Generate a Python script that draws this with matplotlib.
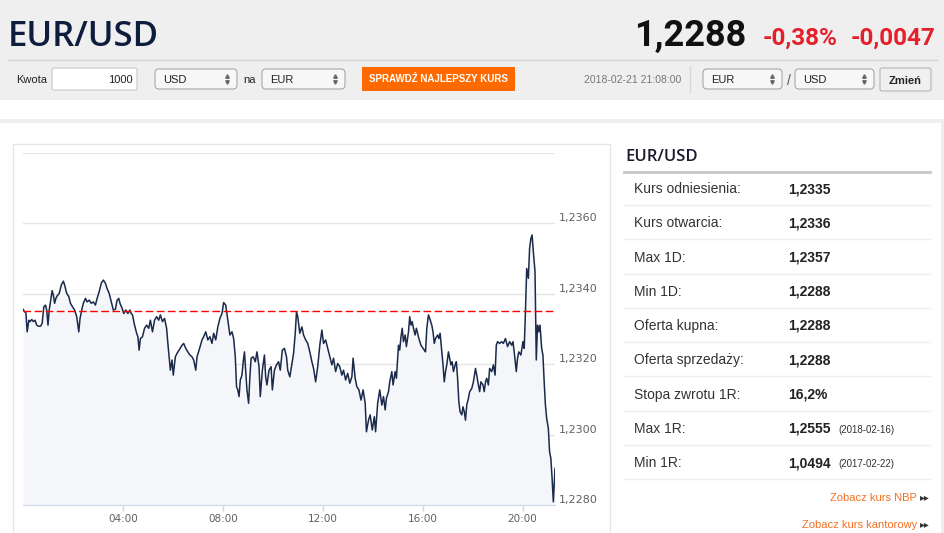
import matplotlib
matplotlib.use("Agg")
import matplotlib.pyplot as plt
from matplotlib.patches import Rectangle, FancyBboxPatch

plt.rcParams['font.family'] = ['Liberation Sans', 'DejaVu Sans']

# header data
pair = "EUR/USD"
last_rate = "1,2288"
change_pct = "-0,38%"
change_abs = "-0,0047"
timestamp = "2018-02-21 21:08:00"
amount = "1000"
reference_rate = 1.2335

# intraday quotes: minutes after 00:00 and rate
minutes = [
    0, 4, 7, 10, 14, 17, 21, 25, 29, 33,
    37, 42, 46, 50, 54, 57, 60, 63, 66, 70,
    73, 76, 79, 82, 87, 92, 97, 100, 105, 110,
    114, 119, 124, 129, 134, 137, 142, 145, 150, 154,
    159, 164, 169, 174, 178, 183, 188, 193, 198, 202,
    207, 212, 217, 222, 226, 230, 233, 238, 242, 247,
    252, 257, 260, 263, 268, 273, 276, 279, 282, 287,
    292, 297, 302, 306, 311, 316, 321, 326, 330, 335,
    340, 345, 348, 351, 354, 358, 361, 366, 370, 375,
    382, 386, 391, 396, 401, 406, 410, 415, 418, 423,
    430, 434, 439, 444, 449, 454, 458, 463, 468, 473,
    478, 482, 487, 492, 497, 502, 506, 510, 513, 516,
    519, 522, 526, 529, 532, 535, 538, 542, 545, 548,
    553, 558, 562, 567, 570, 575, 580, 583, 586, 591,
    596, 599, 604, 609, 614, 618, 623, 628, 633, 636,
    641, 646, 650, 654, 657, 660, 665, 670, 674, 679,
    684, 689, 694, 698, 703, 708, 713, 718, 722, 727,
    732, 737, 742, 746, 751, 756, 761, 766, 770, 775,
    780, 785, 790, 793, 798, 802, 807, 812, 817, 822,
    825, 830, 834, 839, 844, 847, 852, 857, 862, 866,
    870, 873, 878, 881, 886, 889, 894, 897, 902, 905,
    908, 911, 914, 918, 921, 926, 929, 932, 935, 938,
    942, 945, 948, 951, 956, 961, 964, 967, 970, 974,
    977, 982, 985, 988, 991, 996, 999, 1002, 1006, 1009,
    1012, 1015, 1018, 1022, 1025, 1028, 1031, 1034, 1038, 1041,
    1044, 1047, 1050, 1054, 1057, 1060, 1063, 1066, 1070, 1073,
    1078, 1082, 1087, 1090, 1094, 1097, 1100, 1105, 1108, 1111,
    1114, 1118, 1121, 1126, 1130, 1134, 1137, 1140, 1145, 1150,
    1154, 1159, 1164, 1169, 1174, 1177, 1180, 1185, 1188, 1191,
    1196, 1201, 1204, 1207, 1210, 1214, 1217, 1220, 1223, 1226,
    1230, 1233, 1236, 1239, 1242, 1246, 1249, 1252, 1255, 1258,
    1262, 1265, 1268, 1271, 1274, 1278,
]
rates = [
    1.23356, 1.23349, 1.23346, 1.23292, 1.23325, 1.23321, 1.23327, 1.23321, 1.23325, 1.23311,
    1.23308, 1.23308, 1.23316, 1.23363, 1.23368, 1.23354, 1.23311, 1.23354, 1.23377, 1.23409,
    1.23396, 1.23373, 1.23387, 1.23394, 1.23401, 1.23425, 1.23436, 1.23425, 1.23401, 1.23392,
    1.23373, 1.23363, 1.23354, 1.23335, 1.23292, 1.23330, 1.23359, 1.23373, 1.23387, 1.23377,
    1.23382, 1.23373, 1.23377, 1.23368, 1.23387, 1.23406, 1.23430, 1.23439, 1.23430, 1.23415,
    1.23401, 1.23377, 1.23354, 1.23356, 1.23382, 1.23387, 1.23373, 1.23359, 1.23344, 1.23354,
    1.23344, 1.23354, 1.23344, 1.23340, 1.23311, 1.23288, 1.23278, 1.23240, 1.23273, 1.23278,
    1.23302, 1.23311, 1.23302, 1.23325, 1.23292, 1.23325, 1.23335, 1.23325, 1.23340, 1.23321,
    1.23330, 1.23302, 1.23259, 1.23221, 1.23183, 1.23212, 1.23169, 1.23221, 1.23231, 1.23240,
    1.23254, 1.23259, 1.23245, 1.23235, 1.23226, 1.23221, 1.23212, 1.23183, 1.23221, 1.23240,
    1.23269, 1.23278, 1.23292, 1.23269, 1.23278, 1.23259, 1.23288, 1.23269, 1.23306, 1.23330,
    1.23344, 1.23375, 1.23368, 1.23325, 1.23283, 1.23292, 1.23273, 1.23221, 1.23136, 1.23127,
    1.23108, 1.23155, 1.23169, 1.23207, 1.23235, 1.23183, 1.23127, 1.23089, 1.23164, 1.23217,
    1.23221, 1.23207, 1.23235, 1.23193, 1.23108, 1.23183, 1.23226, 1.23164, 1.23141, 1.23183,
    1.23193, 1.23127, 1.23183, 1.23198, 1.23207, 1.23183, 1.23240, 1.23245, 1.23221, 1.23183,
    1.23164, 1.23202, 1.23231, 1.23288, 1.23349, 1.23335, 1.23288, 1.23306, 1.23283, 1.23269,
    1.23259, 1.23235, 1.23207, 1.23188, 1.23150, 1.23193, 1.23254, 1.23297, 1.23259, 1.23269,
    1.23245, 1.23221, 1.23198, 1.23217, 1.23179, 1.23202, 1.23193, 1.23169, 1.23183, 1.23155,
    1.23174, 1.23146, 1.23164, 1.23217, 1.23160, 1.23136, 1.23127, 1.23098, 1.23127, 1.23089,
    1.23008, 1.23041, 1.23056, 1.23013, 1.23051, 1.23008, 1.23089, 1.23127, 1.23084, 1.23108,
    1.23070, 1.23103, 1.23122, 1.23150, 1.23179, 1.23141, 1.23179, 1.23160, 1.23254, 1.23240,
    1.23278, 1.23302, 1.23264, 1.23283, 1.23250, 1.23292, 1.23335, 1.23311, 1.23321, 1.23302,
    1.23283, 1.23302, 1.23288, 1.23273, 1.23254, 1.23245, 1.23240, 1.23235, 1.23302, 1.23340,
    1.23330, 1.23311, 1.23292, 1.23259, 1.23273, 1.23283, 1.23273, 1.23288, 1.23235, 1.23198,
    1.23150, 1.23179, 1.23198, 1.23235, 1.23217, 1.23198, 1.23207, 1.23179, 1.23198, 1.23207,
    1.23160, 1.23093, 1.23065, 1.23056, 1.23079, 1.23065, 1.23041, 1.23084, 1.23103, 1.23122,
    1.23131, 1.23150, 1.23188, 1.23169, 1.23141, 1.23122, 1.23150, 1.23141, 1.23122, 1.23150,
    1.23160, 1.23141, 1.23188, 1.23179, 1.23198, 1.23169, 1.23254, 1.23264, 1.23259, 1.23264,
    1.23259, 1.23273, 1.23250, 1.23264, 1.23254, 1.23264, 1.23235, 1.23179, 1.23217, 1.23235,
    1.23226, 1.23264, 1.23245, 1.23349, 1.23472, 1.23444, 1.23529, 1.23557, 1.23567, 1.23519,
    1.23463, 1.23212, 1.23311, 1.23292, 1.23311, 1.23245, 1.23226, 1.23150, 1.23084, 1.23046,
    1.23018, 1.22951, 1.22933, 1.22876, 1.22809, 1.22904,
]

x_ticks = [240, 480, 720, 960, 1200]
x_labels = ["04:00", "08:00", "12:00", "16:00", "20:00"]
y_ticks = [1.2280, 1.2300, 1.2320, 1.2340, 1.2360, 1.2380]
y_labels = ["1,2280", "1,2300", "1,2320", "1,2340", "1,2360", ""]

stat_labels = ["Kurs odniesienia:", "Kurs otwarcia:", "Max 1D:", "Min 1D:",
               "Oferta kupna:", "Oferta sprzedaży:", "Stopa zwrotu 1R:",
               "Max 1R:", "Min 1R:"]
stat_values = ["1,2335", "1,2336", "1,2357", "1,2288", "1,2288", "1,2288",
               "16,2%", "1,2555", "1,0494"]
stat_dates = ["", "", "", "", "", "", "", "(2018-02-16)", "(2017-02-22)"]
links = ["Zobacz kurs NBP", "Zobacz kurs kantorowy"]

W, H = 945, 533
fig = plt.figure(figsize=(W / 100, H / 100), dpi=100)
fig.patch.set_facecolor("white")

# page layer in pixel units
bg = fig.add_axes([0, 0, 1, 1])
bg.set_xlim(0, W)
bg.set_ylim(H, 0)
bg.axis("off")


def rbox(x0, y0, x1, y1, fc, ec, r=3, lw=0.8):
    bg.add_patch(FancyBboxPatch((x0, y0), x1 - x0, y1 - y0,
                                boxstyle=f"round,pad=0,rounding_size={r}",
                                fc=fc, ec=ec, lw=lw))


def select(x0, x1, txt):
    rbox(x0, 69, x1, 89, "#f7f7f7", "#a8a8a8", r=4)
    bg.text(x0 + 8, 83, txt, fontsize=8, color="#222222")
    bg.plot([x1 - 10], [76], marker="^", ms=2.5, color="#666666")
    bg.plot([x1 - 10], [82], marker="v", ms=2.5, color="#666666")


# grey top band
bg.add_patch(Rectangle((0, 0), W, 100, fc="#efefef", ec="none"))
bg.plot([8, 937], [60, 60], color="#d4d4d4", lw=1)
bg.text(8, 46, pair, family="Open Sans", fontsize=25, fontweight="semibold",
        color="#0e1c3d")
bg.text(746, 46, last_rate, family="Roboto", fontsize=26, fontweight="bold",
        color="#111111", ha="right")
bg.text(838, 45, change_pct, family="Roboto", fontsize=17.5, fontweight="bold",
        color="#e5202a", ha="right")
bg.text(935, 45, change_abs, family="Roboto", fontsize=17.5, fontweight="bold",
        color="#e5202a", ha="right")

# converter row
bg.text(16, 83, "Kwota", fontsize=8, color="#222222")
rbox(52, 68, 137, 90, "white", "#c8c8c8", r=2)
bg.text(133, 83, amount, fontsize=8, color="#222222", ha="right")
select(155, 237, "USD")
bg.text(243, 83, "na", fontsize=8, color="#222222")
select(262, 345, "EUR")
bg.add_patch(Rectangle((362, 67), 153, 24, fc="#ff6a00", ec="none"))
bg.text(438.5, 82.5, "SPRAWDŹ NAJLEPSZY KURS", fontsize=7, fontweight="bold",
        color="white", ha="center")
bg.text(681, 83, timestamp, fontsize=7.5, color="#777777", ha="right")
bg.plot([690, 690], [66, 92], color="#d6d6d6", lw=1)
select(703, 782, "EUR")
bg.text(789, 85, "/", fontsize=10, color="#555555", ha="center")
select(795, 874, "USD")
rbox(880, 68, 931, 91, "#f0f0f0", "#b5b5b5", r=2)
bg.text(905.5, 83.5, "Zmień", fontsize=8, fontweight="bold", color="#222222",
        ha="center")

# panel borders
bg.add_patch(Rectangle((0, 119), W, 4, fc="#efefef", ec="none"))
bg.add_patch(Rectangle((941, 119), 4, H - 119, fc="#efefef", ec="none"))
bg.add_patch(Rectangle((12.5, 143.5), 597, 400, fc="white", ec="#e6e6e6", lw=1))

# stats table
bg.text(625, 161, pair, family="Open Sans", fontsize=12, fontweight="semibold",
        color="#1a1a2e")
bg.plot([624, 930], [172, 172], color="#c8c8c8", lw=2)
for i, (lab, val, dt) in enumerate(zip(stat_labels, stat_values, stat_dates)):
    yc = 188 + 34.25 * i
    bg.text(634, yc + 5, lab, fontsize=10, color="#333333")
    bg.text(788, yc + 5, val, fontsize=10, fontweight="bold", color="#222222")
    if dt:
        bg.text(838, yc + 5, dt, fontsize=7, color="#333333")
    bg.plot([624, 930], [yc + 17, yc + 17], color="#eeeeee", lw=1)

for i, link in enumerate(links):
    yb = 501 + 27 * i
    bg.text(917, yb, link, fontsize=8, color="#f26f21", ha="right")
    bg.text(920, yb - 0.5, "▸▸", family="DejaVu Sans", fontsize=7,
            color="#333333")

# intraday chart
ax = fig.add_axes([23 / W, (H - 505) / H, (555 - 23) / W, (505 - 153) / H])
ax.set_facecolor("none")
ax.fill_between(minutes, rates, y_ticks[0], color="#f4f6f9", lw=0, zorder=1)
ax.plot(minutes, rates, color="#1b2a4a", lw=1.1, zorder=3)
ax.axhline(reference_rate, color="#ff0000", lw=1, dashes=(5.5, 2.5), zorder=4)
ax.set_xlim(0, minutes[-1])
ax.set_ylim(y_ticks[0], y_ticks[-1])
ax.set_yticks(y_ticks, y_labels, va="bottom")
ax.yaxis.tick_right()
ax.tick_params(axis="y", length=0, pad=3, labelsize=8, labelcolor="#606060")
ax.set_xticks(x_ticks, x_labels)
ax.tick_params(axis="x", length=4.3, width=1, color="#ccd6eb", pad=2,
               labelsize=7.5, labelcolor="#606060")
for lbl in ax.get_xticklabels() + ax.get_yticklabels():
    lbl.set_family("DejaVu Sans")
ax.grid(axis="y", color="#e6e6e6", lw=1, zorder=0)
ax.set_axisbelow(True)
for side in ["top", "left", "right"]:
    ax.spines[side].set_visible(False)
ax.spines["bottom"].set_color("#ccd6eb")

fig.savefig("out.png", dpi=100, facecolor="white")
